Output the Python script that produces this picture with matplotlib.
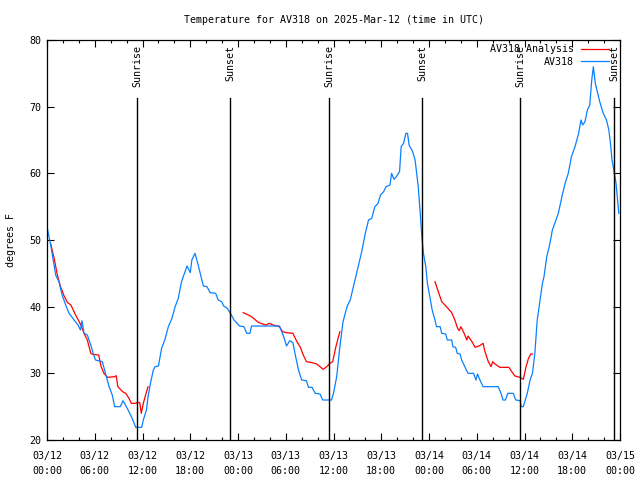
import matplotlib
matplotlib.use("Agg")
import matplotlib.pyplot as plt
import numpy as np

# ---------------- data ----------------
title = "Temperature for AV318 on 2025-Mar-12 (time in UTC)"
ylabel = "degrees F"

# hours since 2025-03-12 00:00 UTC
obs_hours = [0.0, 0.5, 1.1, 1.5, 1.9, 2.35, 2.77, 3.4, 3.9, 4.2, 4.4, 4.65, 5.07, 5.5, 5.8, 6.1,
             6.95, 7.4, 7.8, 8.2, 8.5, 9.2, 9.55, 9.9, 10.3, 10.7, 11.15, 11.9, 12.1, 12.5, 12.7,
             13.0, 13.36, 13.57, 14.0, 14.4, 14.8, 15.25, 15.7, 16.1, 16.5, 16.9, 17.35, 17.6,
             18.0, 18.2, 18.6, 19.0, 19.3, 19.65, 20.1, 20.5, 21.2, 21.5, 21.95, 22.2, 22.65,
             23.1, 23.5, 24.2, 24.75, 25.1, 25.5, 25.7, 29.2, 29.5, 29.8, 30.1, 30.5, 30.9, 31.2,
             31.6, 32.0, 32.6, 32.85, 33.3, 33.7, 34.3, 34.65, 35.75, 36.0, 36.4, 36.8, 37.2,
             37.7, 38.1, 38.5, 38.9, 39.3, 39.5, 40.0, 40.4, 40.8, 41.2, 41.6, 41.9, 42.3, 42.6,
             43.1, 43.3, 43.6, 43.9, 44.3, 44.5, 44.8, 45.1, 45.3, 45.5, 45.95, 46.25, 46.45,
             46.65, 46.9, 47.1, 47.3, 47.6, 47.8, 48.1, 48.4, 48.75, 48.95, 49.4, 49.6, 50.1,
             50.3, 50.85, 51.0, 51.35, 51.55, 51.9, 52.1, 52.5, 52.9, 53.6, 53.9, 54.1, 54.4,
             54.8, 56.7, 57.05, 57.3, 57.6, 57.9, 58.6, 58.9, 59.45, 59.6, 59.85, 60.1, 60.35,
             60.7, 61.0, 61.3, 61.6, 61.95, 62.25, 62.45, 62.8, 63.2, 63.5, 63.8, 64.25, 64.7,
             65.1, 65.5, 65.9, 66.35, 66.8, 67.1, 67.3, 67.6, 67.9, 68.2, 68.45, 68.65, 68.9,
             69.2, 69.45, 69.9, 70.3, 70.6, 70.8, 71.0, 71.3, 71.5, 71.65, 71.85]
obs_temps = [52.0, 49.0, 44.7, 43.75, 41.75, 40.25, 39.0, 38.0, 37.25, 36.5, 37.9, 36.0, 35.75,
             34.25, 33.0, 32.0, 31.75, 29.75, 28.0, 26.75, 25.0, 25.0, 25.9, 25.15, 24.25, 23.25,
             21.9, 21.9, 23.0, 24.5, 26.5, 28.5, 30.5, 31.0, 31.1, 33.75, 35.0, 37.0, 38.25,
             40.0, 41.25, 43.75, 45.25, 46.1, 45.1, 47.0, 48.0, 46.25, 44.75, 43.1, 43.0, 42.1,
             42.0, 41.0, 40.75, 40.1, 39.75, 38.9, 38.0, 37.1, 37.0, 36.0, 36.0, 37.1, 37.1,
             36.25, 35.25, 34.1, 34.9, 34.6, 32.75, 30.5, 29.0, 28.9, 27.9, 27.9, 27.0, 26.9,
             26.0, 26.0, 27.0, 29.5, 34.0, 37.75, 40.0, 41.0, 43.0, 45.0, 47.0, 48.0, 51.0, 53.0,
             53.25, 55.0, 55.5, 56.75, 57.25, 58.0, 58.25, 60.0, 59.1, 59.5, 60.25, 64.0, 64.5,
             66.0, 66.0, 64.25, 63.25, 62.0, 60.0, 58.0, 54.0, 50.5, 48.0, 46.0, 43.5, 41.5,
             39.5, 38.0, 37.0, 37.0, 36.0, 35.9, 35.0, 35.0, 34.0, 33.9, 33.0, 32.9, 32.0, 31.0,
             30.0, 30.0, 29.0, 29.9, 29.0, 28.0, 28.0, 27.0, 26.0, 26.0, 27.0, 27.0, 26.0, 25.9,
             25.0, 25.0, 26.0, 27.0, 29.0, 30.0, 33.0, 38.0, 41.0, 43.5, 44.5, 47.5, 49.5, 51.5,
             52.5, 54.0, 56.5, 58.5, 60.0, 62.5, 64.0, 66.0, 68.0, 67.25, 67.75, 69.5, 70.25,
             74.0, 76.0, 73.5, 72.0, 70.75, 69.0, 68.0, 66.5, 64.5, 62.0, 60.0, 58.5, 56.5, 54.0]

ana1_hours = [0.45, 0.9, 1.3, 1.7, 2.1, 2.55, 3.0, 3.6, 4.0, 4.35, 4.65, 5.07, 5.5, 5.7, 6.5, 6.8,
              7.15, 7.6, 8.5, 8.7, 8.9, 9.5, 9.9, 10.3, 10.6, 11.15, 11.35, 11.65, 11.85, 12.1,
              12.45, 12.7]
ana1_temps = [49.5, 47.25, 44.75, 43.0, 41.75, 40.65, 40.25, 38.75, 37.85, 37.0, 36.0, 35.0, 33.0,
              32.85, 32.75, 31.0, 30.0, 29.4, 29.5, 29.65, 28.0, 27.25, 27.0, 26.25, 25.5, 25.5,
              25.65, 25.6, 24.0, 25.5, 27.0, 28.0]
ana2_hours = [24.65, 25.3, 25.7, 26.1, 26.55, 27.1, 27.5, 27.95, 28.4, 29.2, 29.6, 30.1, 30.9,
              31.4, 31.8, 32.2, 32.6, 33.3, 33.9, 34.3, 34.7, 35.15, 35.55, 35.9, 36.3, 36.8]
ana2_temps = [39.1, 38.75, 38.5, 38.1, 37.65, 37.4, 37.25, 37.5, 37.25, 37.0, 36.25, 36.1, 36.0,
              34.75, 34.0, 32.75, 31.75, 31.6, 31.4, 31.0, 30.6, 31.0, 31.5, 31.75, 34.0, 36.25]
ana3_hours = [48.75, 49.1, 49.6, 50.2, 50.85, 51.25, 51.6, 51.8, 52.0, 52.45, 52.75, 52.9, 53.4,
              53.8, 54.3, 54.8, 55.0, 55.45, 55.8, 56.0, 56.3, 56.9, 58.05, 58.4, 58.8, 59.45,
              59.85, 60.2, 60.5, 60.8, 61.0]
ana3_temps = [43.75, 42.5, 40.75, 40.0, 39.1, 38.0, 36.75, 36.4, 37.0, 35.9, 35.0, 35.6, 34.75,
              33.9, 34.1, 34.5, 33.4, 31.75, 31.0, 31.75, 31.4, 30.9, 30.9, 30.25, 29.6, 29.4,
              29.1, 31.0, 32.25, 32.9, 32.9]

sun_hours = [11.31, 23.0, 35.44, 47.12, 59.44, 71.25]
sun_labels = ["Sunrise", "Sunset", "Sunrise", "Sunset", "Sunrise", "Sunset"]

xtick_hours = [0, 6, 12, 18, 24, 30, 36, 42, 48, 54, 60, 66, 72]
xtick_labels = ["03/12\n00:00", "03/12\n06:00", "03/12\n12:00", "03/12\n18:00",
                "03/13\n00:00", "03/13\n06:00", "03/13\n12:00", "03/13\n18:00",
                "03/14\n00:00", "03/14\n06:00", "03/14\n12:00", "03/14\n18:00",
                "03/15\n00:00"]
yticks = [20, 30, 40, 50, 60, 70, 80]

# ---------------- style ----------------
FONT = "DejaVu Sans Mono"
FS = 7.2
plt.rcParams["font.family"] = [FONT]
plt.rcParams["font.size"] = FS

RED = "#ff0000"
BLUE = "#0a80ff"
LW = 0.9

fig = plt.figure(figsize=(6.4, 4.8), dpi=100)
ax = fig.add_axes([47/640, 1-440/480, (620-47)/640, 400/480])

ax.plot(ana1_hours, ana1_temps, color=RED, lw=LW, label="AV318 Analysis")
ax.plot(ana2_hours, ana2_temps, color=RED, lw=LW)
ax.plot(ana3_hours, ana3_temps, color=RED, lw=LW)
ax.plot(obs_hours, obs_temps, color=BLUE, lw=LW, label="AV318")

for h, lab in zip(sun_hours, sun_labels):
    ax.plot([h, h], [20, 71.3], color="black", lw=1.0)
    ax.text(h, 79.3, lab, rotation=90, ha="center", va="top", fontsize=FS)

ax.set_xlim(0, 72)
ax.set_ylim(20, 80)
ax.set_xticks(xtick_hours)
ax.set_xticklabels(xtick_labels, fontsize=FS, linespacing=1.6)
ax.set_xticks(np.arange(0, 73, 2), minor=True)
ax.set_yticks(yticks)
ax.set_yticklabels([str(v) for v in yticks], fontsize=FS)
ax.tick_params(which="both", direction="in", top=True, right=True, width=0.8)
ax.tick_params(which="major", length=5)
ax.tick_params(which="minor", length=2.5)
ax.tick_params(axis="x", which="major", pad=8)
ax.tick_params(axis="y", which="major", pad=4)
for s in ax.spines.values():
    s.set_linewidth(0.9)

ax.set_ylabel(ylabel, fontsize=FS, labelpad=10)
fig.text(333.5/640, 1-20/480, title, ha="center", va="center", fontsize=FS)

leg = ax.legend(loc="upper right", bbox_to_anchor=((609-47)/573, (440-44.5)/400),
                frameon=False, markerfirst=False, fontsize=FS,
                handlelength=2.8, handletextpad=0.7, borderaxespad=0.0,
                labelspacing=0.25, borderpad=0.0)

fig.savefig("out.png", dpi=100)
